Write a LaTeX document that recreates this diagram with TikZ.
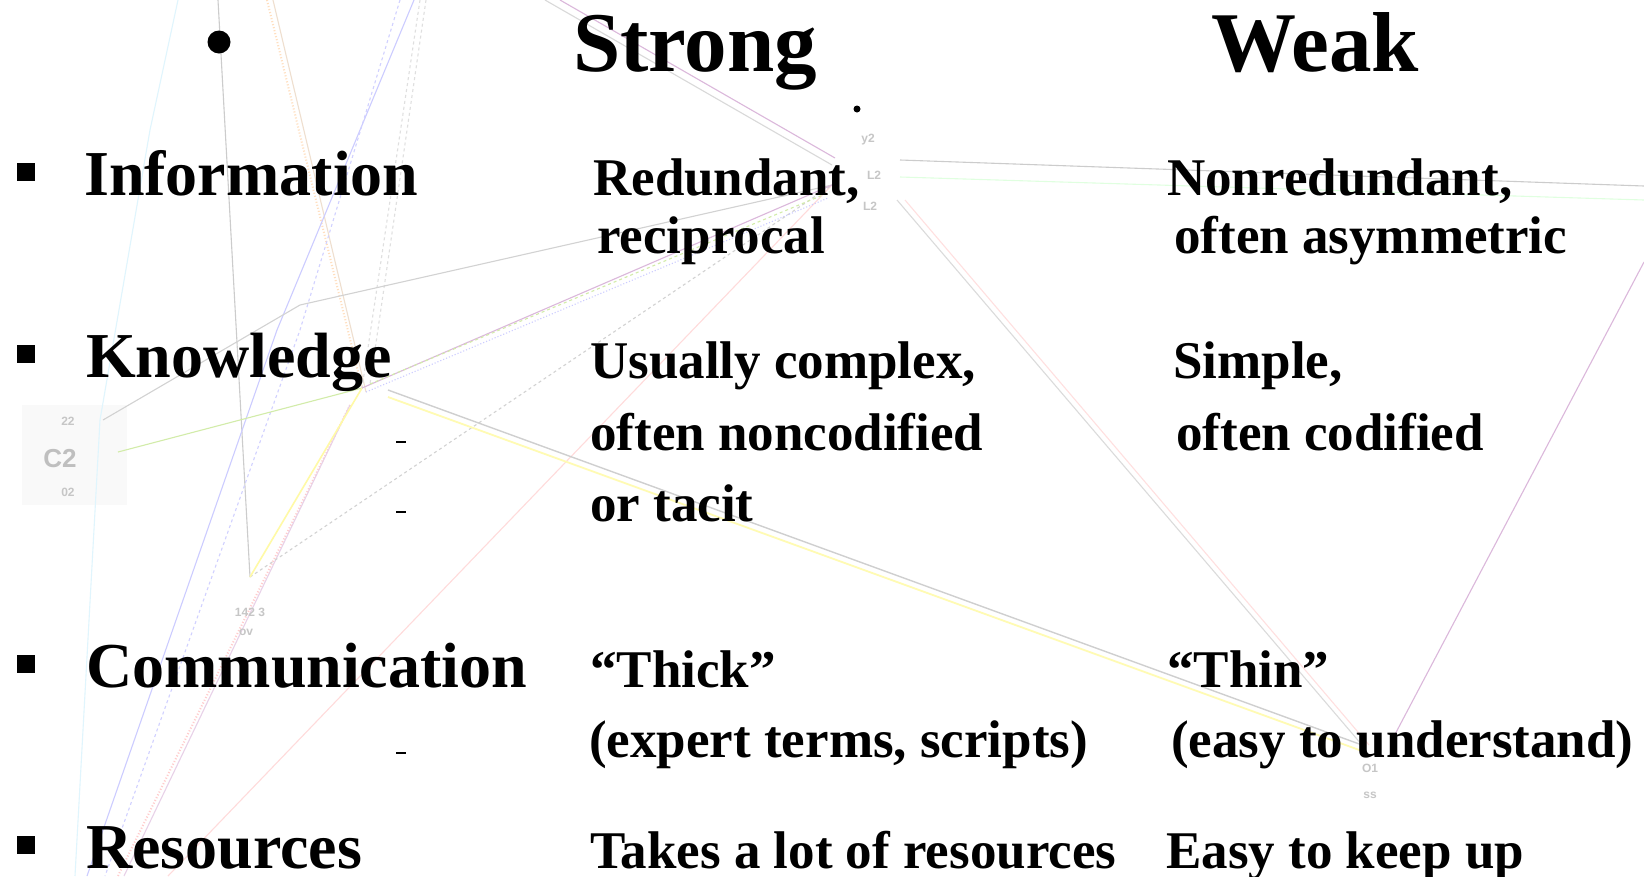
\documentclass[tikz,border=0pt]{standalone}
\usepackage{fontspec}
\setmainfont{Liberation Serif}
\newfontfamily\lblfont{Liberation Sans}
\begin{document}
\begin{tikzpicture}[x=1pt,y=-1pt,
  title/.style={anchor=base west,inner sep=0pt,font=\fontsize{85}{90}\selectfont\bfseries},
  rowlabel/.style={anchor=base west,inner sep=0pt,font=\fontsize{64}{70}\selectfont\bfseries},
  cell/.style={anchor=base west,inner sep=0pt,font=\fontsize{53}{58}\selectfont\bfseries},
  sq/.style={fill=black,minimum size=18pt,inner sep=0pt},
  netlbl/.style={text=gray!45,font=\lblfont\fontsize{12}{12}\selectfont\bfseries,inner sep=0pt},
  net/.style={line width=1.1pt},
  subdash/.style={line width=1.2pt,black},
]
\useasboundingbox (0,0) rectangle (1644,876);
\fill[white] (0,0) rectangle (1644,876);

% ---------- faint network in the background ----------
\coordinate (K) at (362,388);
\coordinate (K2) at (370,384);
\coordinate (K3) at (366,392);
\coordinate (Ke) at (388,390);
\coordinate (Ke2) at (388,397);
\coordinate (Kd) at (350,405);
\coordinate (B) at (832,185);
\coordinate (B2) at (830,192);
\coordinate (B3) at (828,198);
\coordinate (Bt) at (835,158);
\coordinate (Bt2) at (832,165);
\coordinate (Br) at (900,160);
\coordinate (Br2) at (900,177);
\coordinate (Bd) at (897,200);
\coordinate (Bd2) at (905,200);
\coordinate (O) at (1362,745);
\coordinate (O2) at (1362,751);
\coordinate (O3) at (1369,745);
\coordinate (Ou) at (1392,740);
\coordinate (R) at (1644,186);
\coordinate (R2) at (1644,200);
\coordinate (N) at (250,577);
\coordinate (C) at (118,452);
\coordinate (T) at (103,420);
\coordinate (top1) at (218,0);
\coordinate (top2) at (267,0);
\coordinate (top2b) at (273,0);
\coordinate (top3) at (414,0);
\coordinate (top4) at (400,0);
\coordinate (top5) at (420,0);
\coordinate (top5b) at (426,0);
\coordinate (top6) at (560,0);
\coordinate (top7) at (545,0);
\coordinate (top8) at (178,0);
\coordinate (bot1) at (87,876);
\coordinate (bot2) at (105,876);
\coordinate (bot3) at (118,876);
\coordinate (bot3b) at (124,876);
\coordinate (bot4) at (168,876);
\coordinate (bot5) at (75,876);
\coordinate (rgt) at (1644,262);

\fill[gray!5] (22,405) rectangle (127,505);

\draw[net,cyan!12] (top8) -- (150,130) -- (100,420) -- (bot5);
\draw[net,gray!40] (top1) -- (N);
\draw[net,orange!25,dotted,line width=2pt] (top2) -- (K);
\draw[net,brown!25] (top2b) -- (K3);
\draw[net,gray!25,dashed] (top5) -- (K);
\draw[net,gray!25,dashed] (top5b) -- (K2);
\draw[net,blue!20] (top3) -- (277,330) -- (bot1);
\draw[net,blue!18,dashed] (top4) -- (300,330) -- (bot2);
\draw[net,red!20,dotted,line width=2pt] (Kd) -- (bot3);
\draw[net,violet!18] (Kd) -- (bot3b);
\draw[net,red!14] (bot4) -- (B);
\draw[net,gray!35,dashed] (N) -- (B);
\draw[net,yellow!50!green!35] (C) -- (K);
\draw[net,yellow!35,line width=1.6pt] (K) -- (N);
\draw[net,gray!35] (T) -- (300,305) -- (B);
\draw[net,violet!28] (K) -- (B);
\draw[net,yellow!50!green!35,dashed] (K2) -- (B2);
\draw[net,blue!20,dotted] (K3) -- (B3);
\draw[net,violet!28] (top6) -- (Bt);
\draw[net,gray!30] (top7) -- (Bt2);
\draw[net,gray!38,line width=1.4pt] (Ke) -- (O);
\draw[net,yellow!30,line width=1.8pt] (Ke2) -- (O2);
\draw[net,gray!28] (Bd) -- (O);
\draw[net,red!12] (Bd2) -- (O3);
\draw[net,violet!28] (Ou) -- (rgt);
\draw[net,gray!40] (Br) -- (R);
\draw[net,green!12] (Br2) -- (R2);

\node[netlbl,font=\lblfont\fontsize{26}{26}\selectfont\bfseries,text=gray!50] (c2) at (60,459) {C2};
\node[netlbl] (l22) at (68,421) {22};
\node[netlbl] (l02) at (68,492) {02};
\node[netlbl] (l142) at (250,612) {142 3};
\node[netlbl] (lov) at (246,632) {ov};
\node[netlbl] (ly2) at (868,140) {y2};
\node[netlbl] (lL2a) at (874,175) {L2};
\node[netlbl] (lL2b) at (870,206) {L2};
\node[netlbl] (lo1) at (1370,768) {O1};
\node[netlbl] (lss) at (1370,795) {ss};

% ---------- slide text ----------
\node[fill=black,circle,minimum size=23pt,inner sep=0pt] (bul) at (219,42) {};
\node[fill=black,circle,minimum size=7pt,inner sep=0pt] (dot) at (857,109) {};

\node[title] (strong) at (573,71) {Strong};
\node[title] (weak) at (1211,71) {Weak};

\node[sq] (s1) at (26,172) {};
\node[sq] (s2) at (26,354) {};
\node[sq] (s3) at (26,664) {};
\node[sq] (s4) at (26,845) {};

\node[rowlabel] (info) at (84,195) {Information};
\node[rowlabel] (know) at (86,377) {Knowledge};
\node[rowlabel] (comm) at (86,687) {Communication};
\node[rowlabel] (res) at (86,868) {Resources};

\node[cell] (st1a) at (593,195) {Redundant,};
\node[cell] (st1b) at (597,253) {reciprocal};
\node[cell] (st2a) at (590,378) {Usually complex,};
\node[cell] (st2b) at (590,450) {often noncodified};
\node[cell] (st2c) at (590,521) {or tacit};
\node[cell] (st3a) at (590,687) {“Thick”};
\node[cell] (st3b) at (589,757) {(expert terms, scripts)};
\node[cell] (st4) at (590,868) {Takes a lot of resources};

\node[cell] (wk1a) at (1167,195) {Nonredundant,};
\node[cell] (wk1b) at (1174,253) {often asymmetric};
\node[cell] (wk2a) at (1173,378) {Simple,};
\node[cell] (wk2b) at (1176,450) {often codified};
\node[cell] (wk3a) at (1167,687) {“Thin”};
\node[cell] (wk3b) at (1171,757) {(easy to understand)};
\node[cell] (wk4) at (1166,868) {Easy to keep up};

\draw[subdash] (396,442) -- (406,442);
\draw[subdash] (396,512) -- (406,512);
\draw[subdash] (396,753) -- (406,753);
\end{tikzpicture}
\end{document}
